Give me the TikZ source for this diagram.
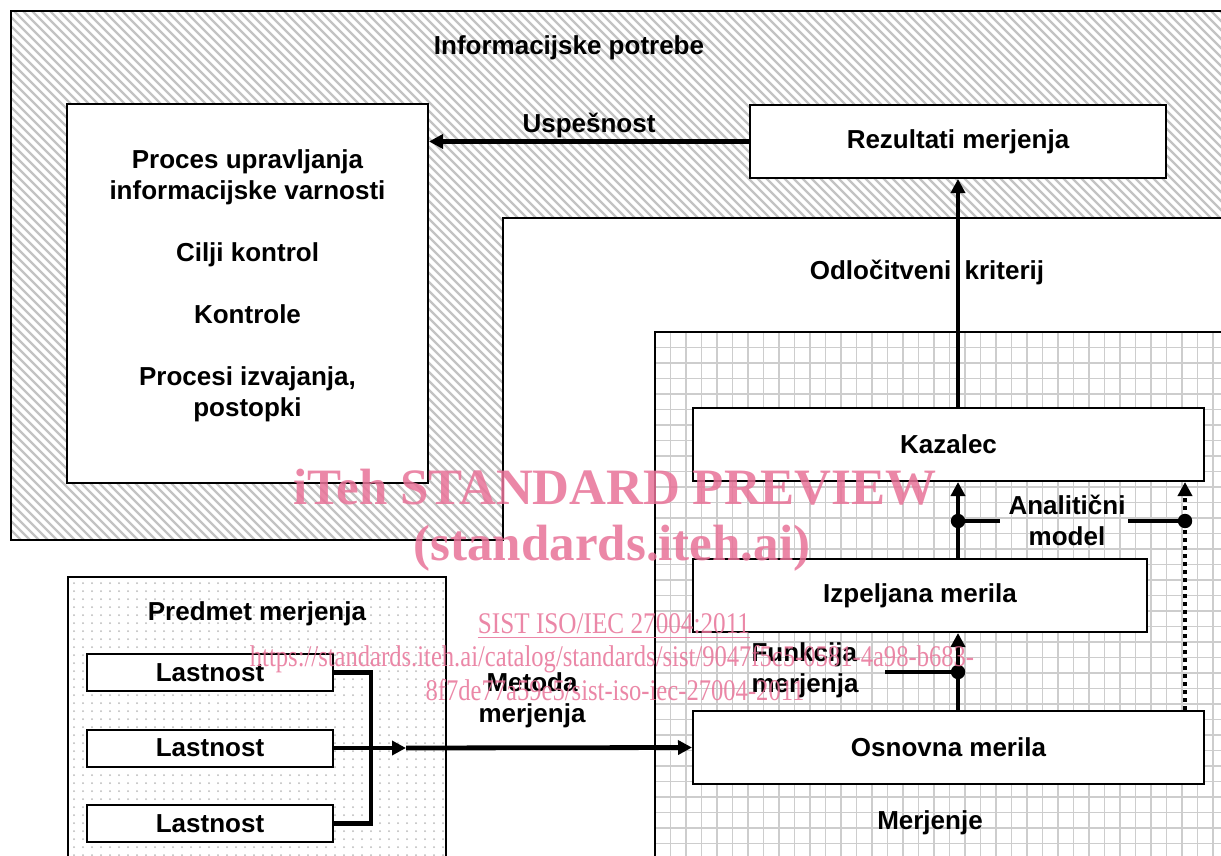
\documentclass[tikz,border=0pt]{standalone}
\usepackage{fontspec}
\setmainfont{Liberation Sans}
\newfontfamily\wmfont{Liberation Serif}
\usetikzlibrary{arrows.meta}
\definecolor{wmpink}{RGB}{232,115,152}
\definecolor{hatchgray}{RGB}{195,195,195}
\definecolor{gridgray}{RGB}{205,205,205}
\definecolor{dotgray}{RGB}{185,185,185}
\begin{document}
\begin{tikzpicture}[x=0.5pt,y=-0.5pt,
  txt/.style={font=\fontsize{13}{15.5}\selectfont\bfseries, align=center, inner sep=1pt},
  box/.style={draw, line width=1pt, fill=white, font=\fontsize{13}{15.5}\selectfont\bfseries, inner sep=0pt, minimum height=36.5pt},
  lbox/.style={draw, line width=1pt, fill=white, font=\fontsize{13}{15.5}\selectfont\bfseries, inner sep=0pt, minimum width=123pt, minimum height=18.5pt},
  conn/.style={line width=2.4pt},
  arr/.style={line width=2.4pt, -{Triangle[length=7pt,width=7pt]}},
  dotarr/.style={line width=2.4pt, dash pattern=on 2.2pt off 1.8pt, -{Triangle[length=7pt,width=7pt]}},
  frame/.style={line width=1pt},
  wm/.style={text=wmpink, opacity=0.85, inner sep=0pt}
]
\useasboundingbox (0,0) rectangle (1221,856);
\fill[white] (0,0) rectangle (1221,856);

% hatched region
\begin{scope}
  \clip (11,11) -- (1240,11) -- (1240,218) -- (503,218) -- (503,540) -- (11,540) -- cycle;
  \foreach \i in {-600,-591,...,1240} \draw[hatchgray, line width=1.1pt] (\i,0) -- ++(600,600);
\end{scope}
\draw[frame] (1240,11) -- (11,11) -- (11,540) -- (503,540) -- (503,218) -- (1240,218);

% grid region
\begin{scope}
  \clip (655,332) rectangle (1240,870);
  \foreach \k in {0,...,38} \draw[gridgray, line width=0.9pt] (655+15.5*\k,332) -- (655+15.5*\k,870);
  \foreach \k in {0,...,35} \draw[gridgray, line width=0.9pt] (655,332+15.5*\k) -- (1240,332+15.5*\k);
\end{scope}
\draw[frame] (655,870) -- (655,332) -- (1240,332);

% dotted region
\begin{scope}
  \clip (68,577) rectangle (446,870);
  \foreach \x in {74,83,...,446} \foreach \y in {583,591,...,860} \fill[dotgray] (\x,\y) circle (0.5pt);
\end{scope}
\draw[frame] (68,870) -- (68,577) -- (446,577) -- (446,870);

% boxes
\node[box, minimum width=180.5pt, minimum height=189.5pt] (proc) at (247.5,293.5) {};
\node[txt] (proctxt) at (247.5,286) {Proces upravljanja\\informacijske varnosti\\[15.5pt]Cilji kontrol\\[15.5pt]Kontrole\\[15.5pt]Procesi izvajanja,\\postopki};
\node[box, minimum width=208pt] (rez) at (958,141.5) {Rezultati merjenja};
\node[box, minimum width=255.5pt] (kaz) at (948.5,444.5) {Kazalec};
\node[box, minimum width=227pt] (izp) at (920,595.5) {Izpeljana merila};
\node[box, minimum width=255.5pt] (osn) at (948.5,747.5) {Osnovna merila};
\node[lbox] (l1) at (210,672.5) {Lastnost};
\node[lbox] (l2) at (210,748) {Lastnost};
\node[lbox] (l3) at (210,823.5) {Lastnost};

% labels
\node[txt] (infp) at (569,48) {Informacijske potrebe};
\node[txt] (usp) at (589,125) {Uspešnost};
\node[txt] (odl) at (927,272) {Odločitveni\hspace{3pt} kriterij};
\node[txt] (anal) at (1067,520) {Analitični\\model};
\node[txt, align=left] (funk) at (805,670) {Funkcija\\merjenja};
\node[txt] (met) at (532,700) {Metoda\\merjenja};
\node[txt] (merj) at (930,823) {Merjenje};
\node[txt] (pred) at (257,614) {Predmet merjenja};

% coordinates
\coordinate (cx) at (958,0);
\coordinate (dx) at (1185,0);
\coordinate (d1) at (958,521);
\coordinate (d2) at (1185,521);
\coordinate (d3) at (958,672);
\coordinate (f0) at (885,672);
\coordinate (br) at (371,748);
\coordinate (m1) at (406,748);
\coordinate (a1) at (1000,521);
\coordinate (a2) at (1128,521);

% connectors
\draw[arr] (rez.west) -- (rez.west -| proc.east);
\draw[arr] (kaz.north -| cx) -- (rez.south -| cx);
\draw[arr] (izp.north -| cx) -- (kaz.south -| cx);
\draw[arr] (osn.north -| cx) -- (izp.south -| cx);
\draw[dotarr] (osn.north -| dx) -- (kaz.south -| dx);
\draw[conn] (d1) -- (a1);
\draw[conn] (a2) -- (d2);
\draw[conn] (f0) -- (d3);
\fill (d1) circle (3.6pt);
\fill (d2) circle (3.6pt);
\fill (d3) circle (3.6pt);
\draw[conn] (l1.east) -- (l1.east -| br) -- (l3.east -| br) -- (l3.east);
\draw[arr] (l2.east) -- (m1);
\draw[arr] (m1) -- (osn.west);

% watermark
\node[wm, font=\wmfont\bfseries\fontsize{25.5}{28}\selectfont] (wm1) at (615,487) {iTeh STANDARD PREVIEW};
\node[wm, font=\wmfont\bfseries\fontsize{25.5}{28}\selectfont] (wm2) at (612,548) {(standards.iteh.ai)};
\node[wm, font=\wmfont\fontsize{15}{17}\selectfont] (wm3) at (614,626) {\scalebox{0.84}[1]{\underline{SIST ISO/IEC 27004:2011}}};
\node[wm, font=\wmfont\fontsize{15}{17}\selectfont] (wm4) at (612,659) {\scalebox{0.82}[1]{https://standards.iteh.ai/catalog/standards/sist/9047f5c5-0581-4a98-b683-}};
\node[wm, font=\wmfont\fontsize{15}{17}\selectfont] (wm5) at (615,690) {\scalebox{0.82}[1]{8f7de77a59e5/sist-iso-iec-27004-2011}};
\end{tikzpicture}
\end{document}
